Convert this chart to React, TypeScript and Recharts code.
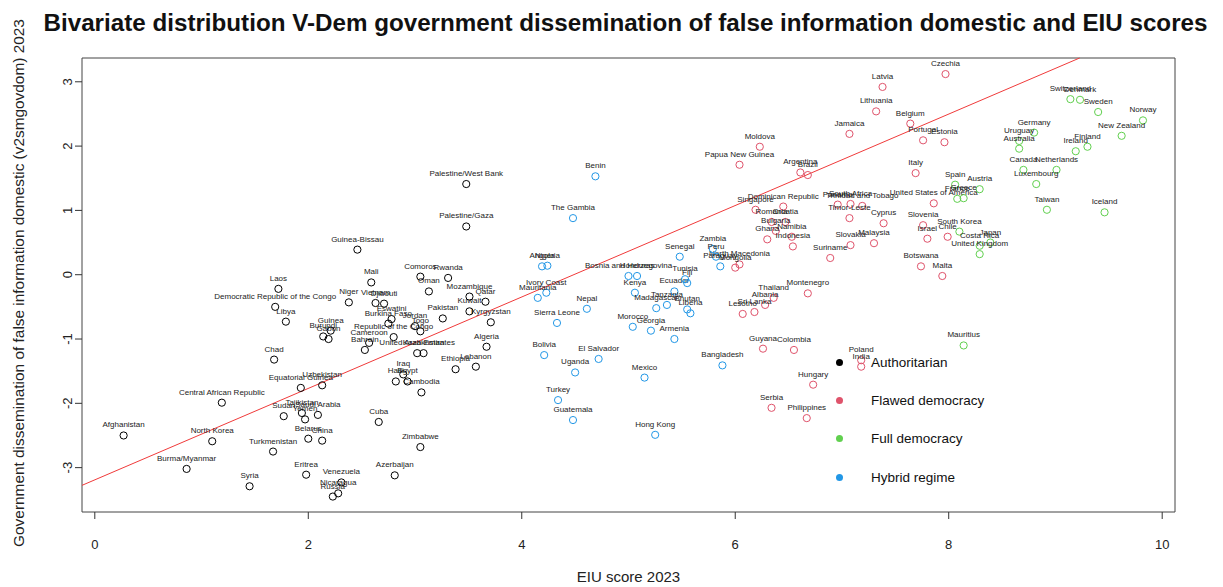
import React from 'react';
import { ScatterChart, Scatter, XAxis, YAxis, ReferenceLine, ReferenceArea } from 'recharts';

type Country = { country: string; eiu: number; gov: number };

const authoritarian: Country[] = [
  { country: 'Afghanistan', eiu: 0.27, gov: -2.5 },
  { country: 'Burma/Myanmar', eiu: 0.86, gov: -3.02 },
  { country: 'North Korea', eiu: 1.1, gov: -2.59 },
  { country: 'Central African Republic', eiu: 1.19, gov: -1.99 },
  { country: 'Syria', eiu: 1.45, gov: -3.29 },
  { country: 'Turkmenistan', eiu: 1.67, gov: -2.75 },
  { country: 'Chad', eiu: 1.68, gov: -1.32 },
  { country: 'Laos', eiu: 1.72, gov: -0.22 },
  { country: 'Democratic Republic of the Congo', eiu: 1.69, gov: -0.5 },
  { country: 'Libya', eiu: 1.79, gov: -0.73 },
  { country: 'Sudan', eiu: 1.77, gov: -2.2 },
  { country: 'Tajikistan', eiu: 1.94, gov: -2.15 },
  { country: 'Yemen', eiu: 1.97, gov: -2.25 },
  { country: 'Saudi Arabia', eiu: 2.09, gov: -2.18 },
  { country: 'Equatorial Guinea', eiu: 1.93, gov: -1.76 },
  { country: 'Uzbekistan', eiu: 2.13, gov: -1.72 },
  { country: 'Belarus', eiu: 2.0, gov: -2.55 },
  { country: 'China', eiu: 2.13, gov: -2.58 },
  { country: 'Eritrea', eiu: 1.98, gov: -3.11 },
  { country: 'Venezuela', eiu: 2.31, gov: -3.23 },
  { country: 'Nicaragua', eiu: 2.28, gov: -3.4 },
  { country: 'Russia', eiu: 2.23, gov: -3.45 },
  { country: 'Azerbaijan', eiu: 2.81, gov: -3.12 },
  { country: 'Zimbabwe', eiu: 3.05, gov: -2.68 },
  { country: 'Cuba', eiu: 2.66, gov: -2.29 },
  { country: 'Cambodia', eiu: 3.06, gov: -1.83 },
  { country: 'Haiti', eiu: 2.82, gov: -1.66 },
  { country: 'Iraq', eiu: 2.89, gov: -1.55 },
  { country: 'Egypt', eiu: 2.93, gov: -1.66 },
  { country: 'Ethiopia', eiu: 3.38, gov: -1.47 },
  { country: 'Lebanon', eiu: 3.57, gov: -1.43 },
  { country: 'Algeria', eiu: 3.67, gov: -1.12 },
  { country: 'Kyrgyzstan', eiu: 3.71, gov: -0.74 },
  { country: 'Kuwait', eiu: 3.51, gov: -0.57 },
  { country: 'Qatar', eiu: 3.66, gov: -0.42 },
  { country: 'Mozambique', eiu: 3.51, gov: -0.34 },
  { country: 'Pakistan', eiu: 3.26, gov: -0.68 },
  { country: 'Rwanda', eiu: 3.31, gov: -0.05 },
  { country: 'Comoros', eiu: 3.05, gov: -0.03 },
  { country: 'Oman', eiu: 3.13, gov: -0.26 },
  { country: 'Mali', eiu: 2.59, gov: -0.12 },
  { country: 'Niger', eiu: 2.38, gov: -0.43 },
  { country: 'Vietnam', eiu: 2.63, gov: -0.44 },
  { country: 'Djibouti', eiu: 2.71, gov: -0.45 },
  { country: 'Eswatini', eiu: 2.78, gov: -0.69 },
  { country: 'Burkina Faso', eiu: 2.75, gov: -0.76 },
  { country: 'Togo', eiu: 3.05, gov: -0.88 },
  { country: 'Jordan', eiu: 3.0, gov: -0.8 },
  { country: 'Republic of the Congo', eiu: 2.8, gov: -0.97 },
  { country: 'Cameroon', eiu: 2.57, gov: -1.06 },
  { country: 'Bahrain', eiu: 2.53, gov: -1.17 },
  { country: 'United Arab Emirates', eiu: 3.02, gov: -1.22 },
  { country: 'Kazakhstan', eiu: 3.08, gov: -1.22 },
  { country: 'Guinea', eiu: 2.21, gov: -0.87 },
  { country: 'Burundi', eiu: 2.14, gov: -0.96 },
  { country: 'Gabon', eiu: 2.19, gov: -1.0 },
  { country: 'Guinea-Bissau', eiu: 2.46, gov: 0.39 },
  { country: 'Palestine/West Bank', eiu: 3.48, gov: 1.41 },
  { country: 'Palestine/Gaza', eiu: 3.48, gov: 0.75 },
];

const flawedDemocracy: Country[] = [
  { country: 'Czechia', eiu: 7.97, gov: 3.12 },
  { country: 'Latvia', eiu: 7.38, gov: 2.92 },
  { country: 'Lithuania', eiu: 7.32, gov: 2.54 },
  { country: 'Belgium', eiu: 7.64, gov: 2.35 },
  { country: 'Jamaica', eiu: 7.07, gov: 2.19 },
  { country: 'Portugal', eiu: 7.76, gov: 2.09 },
  { country: 'Estonia', eiu: 7.96, gov: 2.06 },
  { country: 'Moldova', eiu: 6.23, gov: 1.99 },
  { country: 'Papua New Guinea', eiu: 6.04, gov: 1.71 },
  { country: 'Argentina', eiu: 6.61, gov: 1.59 },
  { country: 'Brazil', eiu: 6.68, gov: 1.55 },
  { country: 'Singapore', eiu: 6.19, gov: 1.01 },
  { country: 'Dominican Republic', eiu: 6.45, gov: 1.06 },
  { country: 'Romania', eiu: 6.34, gov: 0.82 },
  { country: 'Croatia', eiu: 6.47, gov: 0.82 },
  { country: 'Bulgaria', eiu: 6.38, gov: 0.68 },
  { country: 'Ghana', eiu: 6.3, gov: 0.55 },
  { country: 'Namibia', eiu: 6.53, gov: 0.59 },
  { country: 'Indonesia', eiu: 6.54, gov: 0.44 },
  { country: 'Panama', eiu: 6.96, gov: 1.09 },
  { country: 'South Africa', eiu: 7.08, gov: 1.1 },
  { country: 'Trinidad and Tobago', eiu: 7.19, gov: 1.07 },
  { country: 'Timor-Leste', eiu: 7.07, gov: 0.88 },
  { country: 'Cyprus', eiu: 7.39, gov: 0.8 },
  { country: 'United States of America', eiu: 7.86, gov: 1.11 },
  { country: 'Italy', eiu: 7.69, gov: 1.58 },
  { country: 'Slovenia', eiu: 7.76, gov: 0.77 },
  { country: 'Israel', eiu: 7.8, gov: 0.56 },
  { country: 'Chile', eiu: 7.99, gov: 0.59 },
  { country: 'Slovakia', eiu: 7.08, gov: 0.46 },
  { country: 'Malaysia', eiu: 7.3, gov: 0.49 },
  { country: 'Suriname', eiu: 6.89, gov: 0.26 },
  { country: 'Botswana', eiu: 7.74, gov: 0.13 },
  { country: 'Malta', eiu: 7.94, gov: -0.02 },
  { country: 'Montenegro', eiu: 6.68, gov: -0.29 },
  { country: 'Thailand', eiu: 6.36, gov: -0.36 },
  { country: 'Albania', eiu: 6.28, gov: -0.47 },
  { country: 'Sri Lanka', eiu: 6.18, gov: -0.58 },
  { country: 'Lesotho', eiu: 6.07, gov: -0.61 },
  { country: 'Guyana', eiu: 6.26, gov: -1.15 },
  { country: 'Colombia', eiu: 6.55, gov: -1.17 },
  { country: 'Hungary', eiu: 6.73, gov: -1.71 },
  { country: 'Philippines', eiu: 6.67, gov: -2.23 },
  { country: 'Serbia', eiu: 6.34, gov: -2.07 },
  { country: 'Poland', eiu: 7.18, gov: -1.33 },
  { country: 'India', eiu: 7.18, gov: -1.43 },
  { country: 'North Macedonia', eiu: 6.04, gov: 0.16 },
  { country: 'Mongolia', eiu: 6.0, gov: 0.11 },
];

const fullDemocracy: Country[] = [
  { country: 'Switzerland', eiu: 9.14, gov: 2.73 },
  { country: 'Denmark', eiu: 9.23, gov: 2.72 },
  { country: 'Sweden', eiu: 9.4, gov: 2.53 },
  { country: 'Norway', eiu: 9.82, gov: 2.4 },
  { country: 'New Zealand', eiu: 9.62, gov: 2.16 },
  { country: 'Finland', eiu: 9.3, gov: 1.99 },
  { country: 'Ireland', eiu: 9.19, gov: 1.92 },
  { country: 'Germany', eiu: 8.8, gov: 2.21 },
  { country: 'Uruguay', eiu: 8.66, gov: 2.08 },
  { country: 'Australia', eiu: 8.66, gov: 1.96 },
  { country: 'Canada', eiu: 8.7, gov: 1.63 },
  { country: 'Netherlands', eiu: 9.01, gov: 1.63 },
  { country: 'Luxembourg', eiu: 8.82, gov: 1.41 },
  { country: 'Taiwan', eiu: 8.92, gov: 1.01 },
  { country: 'Iceland', eiu: 9.46, gov: 0.97 },
  { country: 'Spain', eiu: 8.06, gov: 1.4 },
  { country: 'Austria', eiu: 8.29, gov: 1.33 },
  { country: 'France', eiu: 8.08, gov: 1.18 },
  { country: 'Greece', eiu: 8.14, gov: 1.19 },
  { country: 'South Korea', eiu: 8.1, gov: 0.67 },
  { country: 'Costa Rica', eiu: 8.29, gov: 0.45 },
  { country: 'Japan', eiu: 8.39, gov: 0.5 },
  { country: 'United Kingdom', eiu: 8.29, gov: 0.32 },
  { country: 'Mauritius', eiu: 8.14, gov: -1.1 },
];

const hybridRegime: Country[] = [
  { country: 'Benin', eiu: 4.69, gov: 1.53 },
  { country: 'The Gambia', eiu: 4.48, gov: 0.88 },
  { country: 'Angola', eiu: 4.19, gov: 0.13 },
  { country: 'Nigeria', eiu: 4.24, gov: 0.14 },
  { country: 'Ivory Coast', eiu: 4.23, gov: -0.28 },
  { country: 'Mauritania', eiu: 4.15, gov: -0.36 },
  { country: 'Nepal', eiu: 4.61, gov: -0.53 },
  { country: 'Sierra Leone', eiu: 4.33, gov: -0.75 },
  { country: 'Bolivia', eiu: 4.21, gov: -1.25 },
  { country: 'El Salvador', eiu: 4.72, gov: -1.31 },
  { country: 'Uganda', eiu: 4.5, gov: -1.52 },
  { country: 'Turkey', eiu: 4.34, gov: -1.95 },
  { country: 'Guatemala', eiu: 4.48, gov: -2.26 },
  { country: 'Mexico', eiu: 5.15, gov: -1.6 },
  { country: 'Hong Kong', eiu: 5.25, gov: -2.49 },
  { country: 'Bangladesh', eiu: 5.88, gov: -1.41 },
  { country: 'Bosnia and Herzegovina', eiu: 5.0, gov: -0.02 },
  { country: 'Honduras', eiu: 5.08, gov: -0.02 },
  { country: 'Kenya', eiu: 5.06, gov: -0.28 },
  { country: 'Ecuador', eiu: 5.43, gov: -0.26 },
  { country: 'Tunisia', eiu: 5.53, gov: -0.07 },
  { country: 'Fiji', eiu: 5.55, gov: -0.13 },
  { country: 'Senegal', eiu: 5.48, gov: 0.28 },
  { country: 'Madagascar', eiu: 5.26, gov: -0.52 },
  { country: 'Tanzania', eiu: 5.36, gov: -0.47 },
  { country: 'Bhutan', eiu: 5.55, gov: -0.54 },
  { country: 'Liberia', eiu: 5.58, gov: -0.6 },
  { country: 'Morocco', eiu: 5.04, gov: -0.81 },
  { country: 'Georgia', eiu: 5.21, gov: -0.87 },
  { country: 'Armenia', eiu: 5.43, gov: -1.0 },
  { country: 'Zambia', eiu: 5.79, gov: 0.4 },
  { country: 'Peru', eiu: 5.82, gov: 0.28 },
  { country: 'Paraguay', eiu: 5.86, gov: 0.13 },
];

const X_TICKS = [0, 2, 4, 6, 8, 10];
const Y_TICKS = [-3, -2, -1, 0, 1, 2, 3];
const X_DOMAIN: [number, number] = [-0.12, 10.12];
const Y_DOMAIN: [number, number] = [-3.69, 3.37];

// least squares line drawn in red
const FIT_INTERCEPT = -3.19;
const FIT_SLOPE = 0.711;

const GROUPS = [
  { name: 'Authoritarian', color: '#000000', data: authoritarian },
  { name: 'Flawed democracy', color: '#DF536B', data: flawedDemocracy },
  { name: 'Full democracy', color: '#61D04F', data: fullDemocracy },
  { name: 'Hybrid regime', color: '#2297E6', data: hybridRegime },
];

const FONT = '"Liberation Sans", Arial, sans-serif';

const makeShape = (color: string) => (props: any) => {
  const { cx, cy, payload } = props;
  return (
    <g>
      <circle cx={cx} cy={cy} r={3.6} fill="none" stroke={color} strokeWidth={1} />
      <text x={cx} y={cy - 8} textAnchor="middle" fontSize={8} fill="#222" fontFamily={FONT}>
        {payload.country}
      </text>
    </g>
  );
};

const YTick = (props: any) => {
  const { y, payload } = props;
  return (
    <text
      x={68}
      y={y}
      transform={`rotate(-90, 68, ${y})`}
      textAnchor="middle"
      dominantBaseline="central"
      fontSize={13}
      fill="#222"
      fontFamily={FONT}
    >
      {payload.value}
    </text>
  );
};

const fitStart = { x: X_DOMAIN[0], y: FIT_INTERCEPT + FIT_SLOPE * X_DOMAIN[0] };
const fitEnd = { x: (Y_DOMAIN[1] - FIT_INTERCEPT) / FIT_SLOPE, y: Y_DOMAIN[1] };

export default function App() {
  return (
    <div style={{ position: 'absolute', left: 0, top: 0, width: 1223, height: 587, background: '#fff', fontFamily: FONT }}>
      <div
        style={{
          position: 'absolute',
          left: 0,
          width: 1251,
          top: 9,
          textAlign: 'center',
          fontSize: 24.2,
          fontWeight: 'bold',
          color: '#111',
          whiteSpace: 'nowrap',
        }}
      >
        Bivariate distribution V-Dem government dissemination of false information domestic and EIU scores
      </div>
      <div
        style={{
          position: 'absolute',
          left: 19,
          top: 283,
          transform: 'translate(-50%, -50%) rotate(-90deg)',
          fontSize: 15.4,
          color: '#222',
          whiteSpace: 'nowrap',
        }}
      >
        Government dissemination of false information domestic (v2smgovdom) 2023
      </div>
      <div
        style={{
          position: 'absolute',
          left: 0,
          width: 1257,
          top: 568,
          textAlign: 'center',
          fontSize: 15,
          color: '#222',
          whiteSpace: 'nowrap',
        }}
      >
        EIU score 2023
      </div>

      <ScatterChart width={1223} height={587} margin={{ top: 58, right: 48, bottom: 0, left: 0 }}>
        <XAxis
          type="number"
          dataKey="eiu"
          domain={X_DOMAIN}
          ticks={X_TICKS}
          allowDataOverflow
          axisLine={false}
          tickLine={{ stroke: '#333' }}
          tickSize={7}
          tickMargin={21}
          height={75}
          tick={{ fontSize: 13, fill: '#222', fontFamily: FONT }}
        />
        <YAxis
          type="number"
          dataKey="gov"
          domain={Y_DOMAIN}
          ticks={Y_TICKS}
          allowDataOverflow
          axisLine={false}
          tickLine={{ stroke: '#333' }}
          tickSize={7}
          width={82}
          tick={<YTick />}
        />
        <ReferenceArea
          x1={X_DOMAIN[0]}
          x2={X_DOMAIN[1]}
          y1={Y_DOMAIN[0]}
          y2={Y_DOMAIN[1]}
          fill="none"
          stroke="#444"
          strokeWidth={1}
        />
        <ReferenceLine segment={[fitStart, fitEnd]} stroke="#f03a3a" strokeWidth={1} />
        {GROUPS.map((g) => (
          <Scatter
            key={g.name}
            name={g.name}
            data={g.data}
            isAnimationActive={false}
            shape={makeShape(g.color)}
          />
        ))}
      </ScatterChart>

      <div style={{ position: 'absolute', left: 834, top: 343 }}>
        {GROUPS.map((g) => (
          <div key={g.name} style={{ display: 'flex', alignItems: 'center', height: 38.3 }}>
            <span
              style={{
                width: 7,
                height: 7,
                borderRadius: '50%',
                background: g.color,
                display: 'inline-block',
                marginLeft: 2,
                marginRight: 28,
              }}
            />
            <span style={{ fontSize: 13.5, color: '#111' }}>{g.name}</span>
          </div>
        ))}
      </div>
    </div>
  );
}
